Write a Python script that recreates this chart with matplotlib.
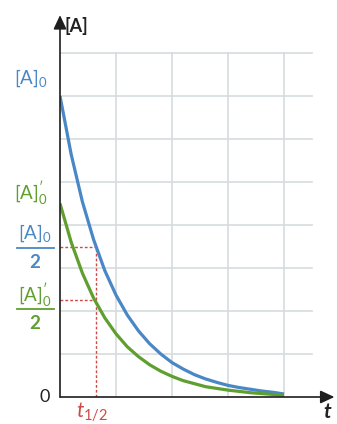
import matplotlib
matplotlib.use("Agg")
import matplotlib.pyplot as plt

plt.rcParams['font.family'] = ['Lato', 'DejaVu Sans']
plt.rcParams['mathtext.fontset'] = 'custom'
plt.rcParams['mathtext.rm'] = 'Lato'
plt.rcParams['mathtext.it'] = 'Lato:italic'
plt.rcParams['mathtext.bf'] = 'Lato:bold'
plt.rcParams['mathtext.default'] = 'regular'

# values (grid units)
t = [0.0, 0.2, 0.4, 0.6, 0.8, 1.0, 1.2, 1.4, 1.6, 1.8, 2.0,
     2.2, 2.4, 2.6, 2.8, 3.0, 3.2, 3.4, 3.6, 3.8, 4.0]
conc_a0 = [7.00, 5.64, 4.54, 3.66, 2.94, 2.37, 1.91, 1.54, 1.24, 1.00, 0.80,
           0.65, 0.52, 0.42, 0.34, 0.27, 0.22, 0.18, 0.14, 0.11, 0.07]
conc_a0p = [4.50, 3.60, 2.88, 2.30, 1.84, 1.47, 1.17, 0.94, 0.75, 0.60, 0.48,
            0.38, 0.31, 0.24, 0.20, 0.16, 0.13, 0.10, 0.08, 0.06, 0.04]
a0 = 7.0
a0p = 4.5
t_half = 0.64

blue = '#4a87c6'
green = '#5f9f2f'
red = '#d04a45'
grid_col = '#d6dbde'

fig = plt.figure(figsize=(3.37, 4.24), dpi=100)
ax = fig.add_axes([60 / 337, 27 / 424, 276 / 337, 383 / 424])
ax.set_xlim(0, 276 / 56)
ax.set_ylim(0, 383 / 43)
ax.axis('off')

# grid
for gy in range(1, 9):
    ax.plot([0, 4.5], [gy, gy], color=grid_col, lw=1.2, zorder=1)
for gx in range(1, 5):
    ax.plot([gx, gx], [0, 8], color=grid_col, lw=1.2, zorder=1)

# half-life guides
dash = (0, (2, 1.5))
ax.plot([0, t_half], [a0 / 2, a0 / 2], color=red, lw=1, ls=dash, zorder=2)
ax.plot([0, t_half], [a0p / 2, a0p / 2], color=red, lw=1, ls=dash, zorder=2)
ax.plot([t_half, t_half], [0, a0 / 2], color=red, lw=1, ls=dash, zorder=2)

ax.plot(t, conc_a0, color=blue, lw=2.3, zorder=3, solid_capstyle='butt')
ax.plot(t, conc_a0p, color=green, lw=2.3, zorder=4, solid_capstyle='butt')

# axes arrows
arrow = dict(arrowstyle='-|>,head_length=0.6,head_width=0.28', color='#1e1e1e',
             lw=1.2, mutation_scale=14, shrinkA=0, shrinkB=0)
ann_x = ax.annotate('', xy=(4.9, 0), xytext=(0, 0), arrowprops=arrow,
                    annotation_clip=False, zorder=5)
ann_y = ax.annotate('', xy=(0, 8.88), xytext=(0, 0), arrowprops=arrow,
                    annotation_clip=False, zorder=5)
ann_x.arrow_patch.set_clip_on(False)
ann_y.arrow_patch.set_clip_on(False)

# labels
ax.text(0.08, 8.62, '[A]', fontsize=13, fontweight='bold', color='#222222',
        ha='left', va='center')
ax.text(4.77, -0.36, 't', fontsize=15, fontweight='bold', fontstyle='italic',
        color='#222222', ha='center', va='center')
ax.text(-0.27, 0.0, '0', fontsize=13, color='#222222', ha='center', va='center')
ax.text(0.57, -0.36, r'$\mathit{t}_{1/2}$', fontsize=15, color=red,
        ha='center', va='center')

ax.text(-0.22, 7.42, r'$[A]_0$', fontsize=13.5, color=blue, ha='right', va='center')
ax.text(-0.22, 4.74, r"$[A]^{\prime}_0$", fontsize=13.5, color=green, ha='right', va='center')

# fractions
ax.text(-0.45, 3.81, r'$[A]_0$', fontsize=13.5, color=blue, ha='center', va='center')
ax.plot([-0.77, -0.11], [3.47, 3.47], color=blue, lw=1.3, clip_on=False)
ax.text(-0.45, 3.12, '2', fontsize=13.5, fontweight='bold', color=blue,
        ha='center', va='center')

ax.text(-0.45, 2.37, r"$[A]^{\prime}_0$", fontsize=13.5, color=green, ha='center', va='center')
ax.plot([-0.77, -0.11], [2.04, 2.04], color=green, lw=1.3, clip_on=False)
ax.text(-0.45, 1.70, '2', fontsize=13.5, fontweight='bold', color=green,
        ha='center', va='center')

fig.savefig('out.png', dpi=100, facecolor='white')
